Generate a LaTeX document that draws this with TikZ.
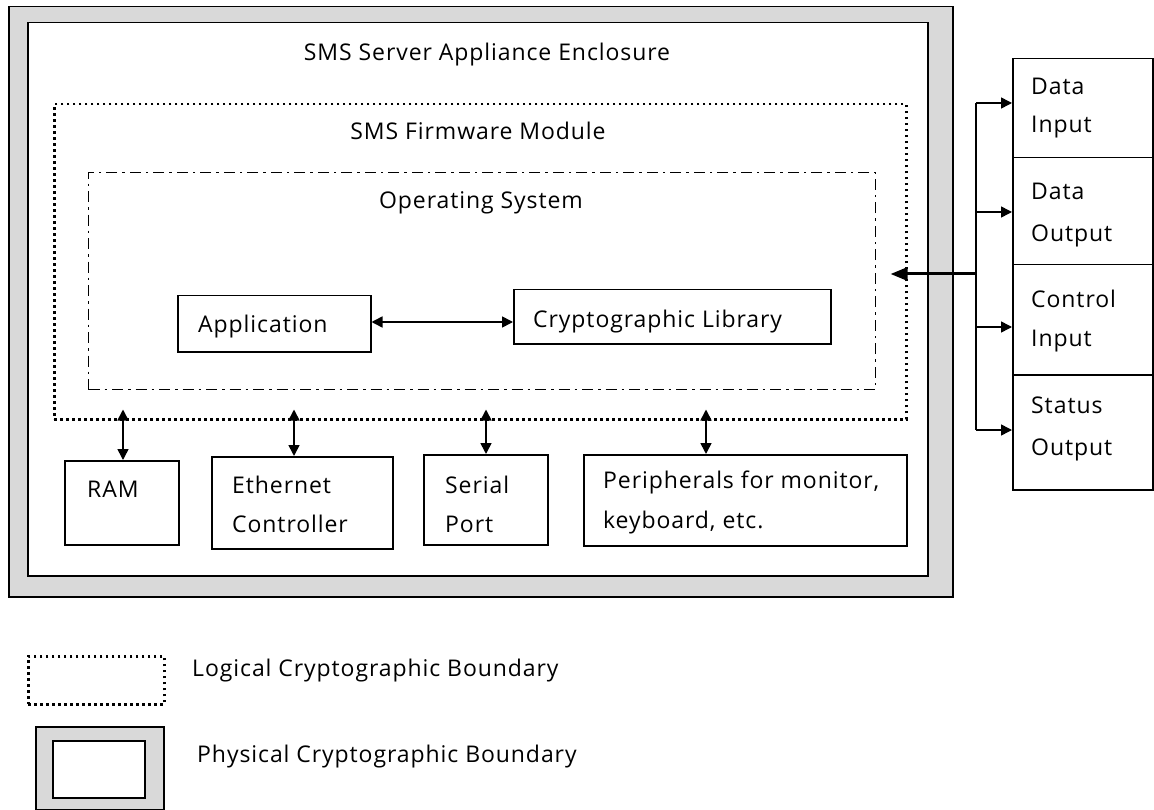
\documentclass[tikz,border=0pt]{standalone}
\usepackage{fontspec}
\setmainfont[LetterSpace=4]{Open Sans}
\usetikzlibrary{arrows.meta,calc}
\definecolor{bandgray}{HTML}{D9D9D9}
\begin{document}
\begin{tikzpicture}[x=1pt,y=-1pt,
  box/.style={draw=black, line width=1.5pt, inner sep=0pt, anchor=north west, fill=white},
  band/.style={box, fill=bandgray},
  logicbox/.style={draw=black, line width=2.5pt, dash pattern=on 2.4pt off 3.6pt, inner sep=0pt, anchor=north west},
  osbox/.style={draw=black, line width=1.2pt, dash pattern=on 11pt off 5pt on 2.5pt off 5pt, inner sep=0pt, anchor=north west},
  txt/.style={font=\fontsize{23}{23}\selectfont, inner sep=0pt, anchor=base west},
  ctxt/.style={font=\fontsize{23}{23}\selectfont, inner sep=0pt, anchor=base},
  bi/.style={line width=1.6pt, {Triangle[length=11pt,width=11pt]}-{Triangle[length=11pt,width=11pt]}},
  one/.style={line width=1.5pt, -{Triangle[length=11pt,width=11pt]}},
  bus/.style={line width=1.5pt},
  heavy/.style={line width=3pt, -{Triangle[length=17pt,width=13pt]}}
]
\useasboundingbox (0,0) rectangle (1154,810);

% enclosure
\node[band, minimum width=944pt, minimum height=590pt] (enclout) at (8,6) {};
\node[box, minimum width=900pt, minimum height=553pt] (enclin) at (27,22) {};
\node[ctxt] (encltitle) at (487,61) {SMS Server Appliance Enclosure};

% logical boundary
\node[logicbox, minimum width=852pt, minimum height=315pt] (logical) at (53,103) {};
\node[ctxt] (fwtitle) at (478,140) {SMS Firmware Module};

% operating system
\node[osbox, minimum width=787pt, minimum height=217pt] (os) at (88,172) {};
\node[ctxt] (ostitle) at (481,209) {Operating System};

% application and library
\node[box, minimum width=193pt, minimum height=56pt] (app) at (177,295) {};
\node[txt] (apptxt) at (198,333) {Application};
\node[box, minimum width=317pt, minimum height=54pt] (crypto) at (513,289) {};
\node[txt] (cryptotxt) at (533,327) {Cryptographic Library};
\coordinate (ay) at (0,322);
\draw[bi] (app.east |- ay) -- (crypto.west |- ay);

% bottom components
\node[box, minimum width=114pt, minimum height=84pt] (ram) at (64,460) {};
\node[txt] (ramtxt) at (87,497) {RAM};
\node[box, minimum width=181pt, minimum height=92pt] (eth) at (211,456) {};
\node[txt] (ethtxt1) at (232,493) {Ethernet};
\node[txt] (ethtxt2) at (232,532) {Controller};
\node[box, minimum width=124pt, minimum height=90pt] (serial) at (423,454) {};
\node[txt] (sertxt1) at (445,493) {Serial};
\node[txt] (sertxt2) at (445,532) {Port};
\node[box, minimum width=323pt, minimum height=91pt] (periph) at (583,454) {};
\node[txt] (pertxt1) at (603,488) {Peripherals for monitor,};
\node[txt] (pertxt2) at (603,528) {keyboard, etc.};

\coordinate (x1) at (123,0);
\coordinate (x2) at (294,0);
\coordinate (x3) at (486,0);
\coordinate (x4) at (706,0);
\draw[bi] ($(logical.south -| x1)+(0,-11)$) -- (ram.north -| x1);
\draw[bi] ($(logical.south -| x2)+(0,-11)$) -- (eth.north -| x2);
\draw[bi] ($(logical.south -| x3)+(0,-11)$) -- (serial.north -| x3);
\draw[bi] ($(logical.south -| x4)+(0,-11)$) -- (periph.north -| x4);

% right-hand interfaces
\node[box, minimum width=140pt, minimum height=99pt] (di) at (1012,58) {};
\node[txt] (ditxt1) at (1031,95) {Data};
\node[txt] (ditxt2) at (1031,133) {Input};
\node[box, minimum width=140pt, minimum height=107pt] (do) at (1012,157) {};
\node[txt] (dotxt1) at (1031,200) {Data};
\node[txt] (dotxt2) at (1031,242) {Output};
\node[box, minimum width=140pt, minimum height=110pt] (ci) at (1012,264) {};
\node[txt] (citxt1) at (1031,308) {Control};
\node[txt] (citxt2) at (1031,347) {Input};
\node[box, minimum width=140pt, minimum height=115pt] (so) at (1012,374) {};
\node[txt] (sotxt1) at (1031,413) {Status};
\node[txt] (sotxt2) at (1031,455) {Output};

\coordinate (b1) at (976,103);
\coordinate (b2) at (976,212);
\coordinate (b3) at (976,327);
\coordinate (b4) at (976,430);
\coordinate (bm) at (976,274);
\draw[bus] (b1) -- (b4);
\draw[one] (b1) -- (b1 -| di.west);
\draw[one] (b2) -- (b2 -| do.west);
\draw[one] (b3) -- (b3 -| ci.west);
\draw[one] (b4) -- (b4 -| so.west);
\draw[heavy] (bm) -- ($(bm -| logical.east)+(-17,0)$);

% legend
\node[logicbox, minimum width=136pt, minimum height=48pt] (leglogical) at (27,655) {};
\node[txt] (leglogtxt) at (192,676) {Logical Cryptographic Boundary};
\node[band, minimum width=128pt, minimum height=83pt] (legphysout) at (35,726) {};
\node[box, minimum width=92pt, minimum height=57pt] (legphysin) at (52,740) {};
\node[txt] (legphystxt) at (197,762) {Physical Cryptographic Boundary};
\end{tikzpicture}
\end{document}
